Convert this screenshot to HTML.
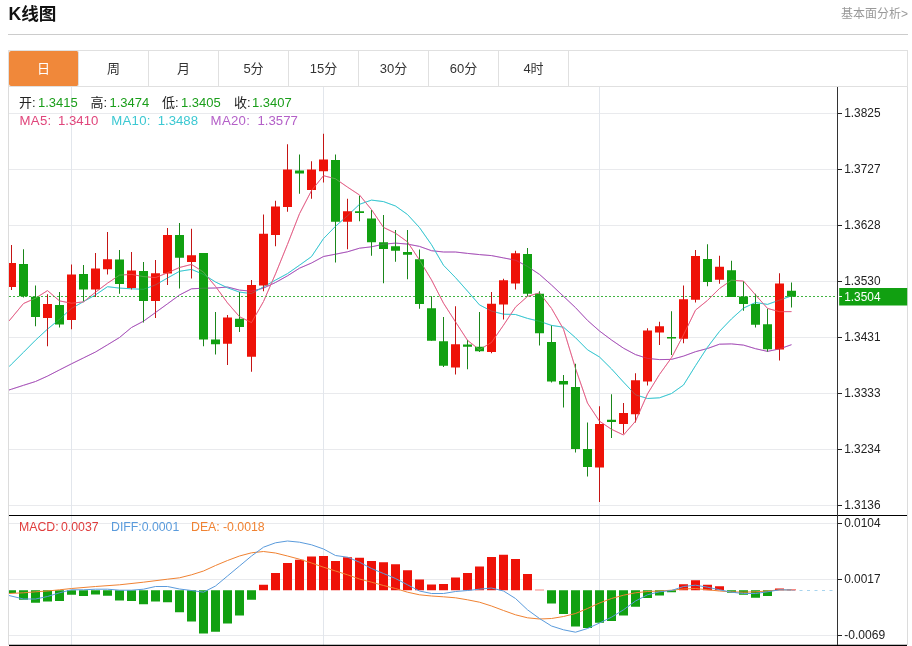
<!DOCTYPE html>
<html lang="zh-CN"><head><meta charset="utf-8"><title>K线图</title>
<style>
html,body{margin:0;padding:0;background:#fff}
body{width:912px;height:646px;position:relative;overflow:hidden;font-family:"Liberation Sans","Noto Sans CJK SC",sans-serif;color:#222}
svg text{font-family:"Liberation Sans","Noto Sans CJK SC",sans-serif}
.title{position:absolute;left:8.5px;top:2px;font-size:17.6px;font-weight:bold;line-height:24px;color:#111}
.more{position:absolute;right:4px;top:4.5px;font-size:12px;line-height:18px;color:#999}
.hr{position:absolute;left:8px;right:4px;top:34px;height:1px;background:#ccc}
.tabs{position:absolute;left:8px;top:50px;width:898px;height:35px;border:1px solid #e0e0e0;box-sizing:content-box;display:flex}
.tab{width:69px;height:35px;border-right:1px solid #e0e0e0;text-align:center;line-height:35px;font-size:13px;color:#333}
.tab.on{background:#f0883a;color:#fff;border-radius:2px}
.row{position:absolute;left:0;height:16px;line-height:16px;white-space:nowrap}
.row span{position:absolute;top:0}
.r1{top:95px;font-size:13px}
.r2{top:113px;font-size:13.2px}
.r3{top:518.5px;font-size:12.3px}
.g{color:#1a9e1a}
</style></head><body>
<div class="title">K线图</div>
<div class="more">基本面分析&gt;</div>
<div class="hr"></div>
<div class="tabs"><div class="tab on">日</div><div class="tab">周</div><div class="tab">月</div><div class="tab">5分</div><div class="tab">15分</div><div class="tab">30分</div><div class="tab">60分</div><div class="tab">4时</div></div>
<svg width="912" height="646" viewBox="0 0 912 646" style="position:absolute;left:0;top:0">
<defs><clipPath id="cp"><rect x="9" y="87" width="828" height="560"/></clipPath></defs>
<line x1="9" x2="837" y1="113.5" y2="113.5" stroke="#e9eaed" stroke-width="1"/>
<line x1="9" x2="837" y1="169.5" y2="169.5" stroke="#e9eaed" stroke-width="1"/>
<line x1="9" x2="837" y1="225.5" y2="225.5" stroke="#e9eaed" stroke-width="1"/>
<line x1="9" x2="837" y1="281.5" y2="281.5" stroke="#e9eaed" stroke-width="1"/>
<line x1="9" x2="837" y1="337.5" y2="337.5" stroke="#e9eaed" stroke-width="1"/>
<line x1="9" x2="837" y1="393.5" y2="393.5" stroke="#e9eaed" stroke-width="1"/>
<line x1="9" x2="837" y1="449.5" y2="449.5" stroke="#e9eaed" stroke-width="1"/>
<line x1="9" x2="837" y1="505.5" y2="505.5" stroke="#e9eaed" stroke-width="1"/>
<line x1="9" x2="837" y1="523.5" y2="523.5" stroke="#e9eaed" stroke-width="1"/>
<line x1="9" x2="837" y1="579.5" y2="579.5" stroke="#e9eaed" stroke-width="1"/>
<line x1="9" x2="837" y1="635.5" y2="635.5" stroke="#e9eaed" stroke-width="1"/>
<line x1="71.5" x2="71.5" y1="87" y2="645" stroke="#e2e6ec" stroke-width="1"/>
<line x1="323.5" x2="323.5" y1="87" y2="645" stroke="#e2e6ec" stroke-width="1"/>
<line x1="599.5" x2="599.5" y1="87" y2="645" stroke="#e2e6ec" stroke-width="1"/>
<line x1="8.5" x2="8.5" y1="87" y2="645" stroke="#dcdcdc" stroke-width="1"/>
<line x1="907.5" x2="907.5" y1="87" y2="645" stroke="#dcdcdc" stroke-width="1"/>
<g clip-path="url(#cp)">
<polyline points="9.0,390.0 11.5,389.2 23.5,385.3 35.5,381.5 47.5,376.1 59.5,369.9 71.5,363.8 83.5,357.9 95.5,352.0 107.5,344.8 119.5,337.5 131.5,327.5 143.5,321.2 155.5,312.5 167.5,303.8 179.5,295.0 191.5,288.8 203.5,288.2 215.5,288.0 227.5,287.0 239.5,290.1 251.5,291.2 263.5,288.1 275.5,282.5 287.5,275.8 299.5,268.2 311.5,263.0 323.5,256.5 335.5,254.2 347.5,251.8 359.5,248.2 371.5,246.8 383.5,244.2 395.5,243.1 407.5,244.1 419.5,246.4 431.5,250.7 443.5,252.0 455.5,252.0 467.5,253.4 479.5,254.6 491.5,255.6 503.5,257.9 515.5,260.2 527.5,266.4 539.5,274.4 551.5,285.0 563.5,296.3 575.5,307.6 587.5,320.4 599.5,331.0 611.5,340.0 623.5,348.2 635.5,354.6 647.5,358.4 659.5,359.6 671.5,359.4 683.5,356.1 695.5,351.7 707.5,348.5 719.5,344.2 731.5,343.9 743.5,345.1 755.5,348.7 767.5,351.4 779.5,348.9 791.5,344.7" fill="none" stroke="#a450b4" stroke-width="1.0" stroke-linejoin="round" />
<polyline points="9.0,366.7 11.5,364.2 23.5,352.3 35.5,340.2 47.5,329.1 59.5,319.3 71.5,308.4 83.5,301.6 95.5,294.9 107.5,286.7 119.5,288.1 131.5,288.8 143.5,289.3 155.5,284.9 167.5,278.0 179.5,271.3 191.5,269.4 203.5,274.4 215.5,282.0 227.5,287.8 239.5,292.1 251.5,293.6 263.5,286.8 275.5,280.1 287.5,273.6 299.5,265.2 311.5,256.6 323.5,238.6 335.5,226.3 347.5,215.7 359.5,204.3 371.5,200.1 383.5,201.6 395.5,206.0 407.5,214.5 419.5,227.6 431.5,244.7 443.5,265.3 455.5,277.6 467.5,291.1 479.5,304.9 491.5,311.1 503.5,314.2 515.5,314.5 527.5,318.4 539.5,321.3 551.5,325.4 563.5,327.2 575.5,337.7 587.5,349.8 599.5,357.0 611.5,368.9 623.5,382.1 635.5,394.8 647.5,398.5 659.5,397.8 671.5,393.5 683.5,385.0 695.5,365.7 707.5,347.2 719.5,331.4 731.5,318.9 743.5,308.1 755.5,302.5 767.5,304.4 779.5,300.1 791.5,295.9" fill="none" stroke="#3cc8d2" stroke-width="1.0" stroke-linejoin="round" />
<polyline points="9.0,321.0 11.5,318.0 23.5,303.5 35.5,298.2 47.5,290.6 59.5,300.9 71.5,303.2 83.5,301.9 95.5,292.2 107.5,283.2 119.5,275.1 131.5,274.4 143.5,276.6 155.5,277.6 167.5,272.8 179.5,267.5 191.5,264.4 203.5,272.1 215.5,286.4 227.5,302.9 239.5,316.7 251.5,322.6 263.5,301.5 275.5,273.9 287.5,244.3 299.5,213.7 311.5,190.6 323.5,175.7 335.5,178.8 347.5,187.1 359.5,195.0 371.5,209.6 383.5,227.4 395.5,233.2 407.5,241.9 419.5,260.1 431.5,279.9 443.5,303.2 455.5,321.9 467.5,340.3 479.5,349.8 491.5,342.4 503.5,325.2 515.5,307.1 527.5,296.4 539.5,292.9 551.5,308.4 563.5,329.2 575.5,368.4 587.5,403.1 599.5,421.2 611.5,429.3 623.5,435.0 635.5,421.2 647.5,393.9 659.5,374.4 671.5,357.7 683.5,334.9 695.5,310.1 707.5,300.4 719.5,288.5 731.5,280.2 743.5,281.1 755.5,294.9 767.5,308.4 779.5,311.7 791.5,311.6" fill="none" stroke="#d83a6a" stroke-width="1.0" stroke-linejoin="round" />
<line x1="9" x2="837" y1="296.5" y2="296.5" stroke="#11a011" stroke-opacity="0.8" stroke-width="1" stroke-dasharray="2,2"/>
<line x1="11.5" x2="11.5" y1="245" y2="290" stroke="#c41414" stroke-width="1"/>
<rect x="7.0" y="263" width="9" height="24" fill="#ee1208"/>
<line x1="23.5" x2="23.5" y1="249.25" y2="297.5" stroke="#1a861a" stroke-width="1"/>
<rect x="19.0" y="264" width="9" height="32.25" fill="#11a011"/>
<line x1="35.5" x2="35.5" y1="285.5" y2="326.25" stroke="#1a861a" stroke-width="1"/>
<rect x="31.0" y="296.75" width="9" height="20.25" fill="#11a011"/>
<line x1="47.5" x2="47.5" y1="294.25" y2="346.25" stroke="#c41414" stroke-width="1"/>
<rect x="43.0" y="304" width="9" height="14" fill="#ee1208"/>
<line x1="59.5" x2="59.5" y1="292" y2="327.5" stroke="#1a861a" stroke-width="1"/>
<rect x="55.0" y="305" width="9" height="19.5" fill="#11a011"/>
<line x1="71.5" x2="71.5" y1="264.5" y2="329.25" stroke="#c41414" stroke-width="1"/>
<rect x="67.0" y="274.5" width="9" height="45.5" fill="#ee1208"/>
<line x1="83.5" x2="83.5" y1="265" y2="301.25" stroke="#1a861a" stroke-width="1"/>
<rect x="79.0" y="274" width="9" height="15.5" fill="#11a011"/>
<line x1="95.5" x2="95.5" y1="253" y2="297" stroke="#c41414" stroke-width="1"/>
<rect x="91.0" y="268.5" width="9" height="21.0" fill="#ee1208"/>
<line x1="107.5" x2="107.5" y1="232" y2="274.5" stroke="#c41414" stroke-width="1"/>
<rect x="103.0" y="259.25" width="9" height="10.0" fill="#ee1208"/>
<line x1="119.5" x2="119.5" y1="250" y2="293.75" stroke="#1a861a" stroke-width="1"/>
<rect x="115.0" y="259.5" width="9" height="24.5" fill="#11a011"/>
<line x1="131.5" x2="131.5" y1="252" y2="289.5" stroke="#c41414" stroke-width="1"/>
<rect x="127.0" y="270.5" width="9" height="17.5" fill="#ee1208"/>
<line x1="143.5" x2="143.5" y1="262" y2="322.5" stroke="#1a861a" stroke-width="1"/>
<rect x="139.0" y="271" width="9" height="30" fill="#11a011"/>
<line x1="155.5" x2="155.5" y1="260" y2="318" stroke="#c41414" stroke-width="1"/>
<rect x="151.0" y="273.25" width="9" height="27.75" fill="#ee1208"/>
<line x1="167.5" x2="167.5" y1="228" y2="285" stroke="#c41414" stroke-width="1"/>
<rect x="163.0" y="235" width="9" height="38.5" fill="#ee1208"/>
<line x1="179.5" x2="179.5" y1="223" y2="288.5" stroke="#1a861a" stroke-width="1"/>
<rect x="175.0" y="235" width="9" height="22.75" fill="#11a011"/>
<line x1="191.5" x2="191.5" y1="228.75" y2="278.5" stroke="#c41414" stroke-width="1"/>
<rect x="187.0" y="255.25" width="9" height="6.75" fill="#ee1208"/>
<line x1="203.5" x2="203.5" y1="253" y2="346.25" stroke="#1a861a" stroke-width="1"/>
<rect x="199.0" y="253" width="9" height="86.5" fill="#11a011"/>
<line x1="215.5" x2="215.5" y1="312" y2="354.5" stroke="#1a861a" stroke-width="1"/>
<rect x="211.0" y="339.5" width="9" height="4.75" fill="#11a011"/>
<line x1="227.5" x2="227.5" y1="315" y2="365" stroke="#c41414" stroke-width="1"/>
<rect x="223.0" y="317.5" width="9" height="26.25" fill="#ee1208"/>
<line x1="239.5" x2="239.5" y1="292" y2="332" stroke="#1a861a" stroke-width="1"/>
<rect x="235.0" y="318.75" width="9" height="8.25" fill="#11a011"/>
<line x1="251.5" x2="251.5" y1="280" y2="371.75" stroke="#c41414" stroke-width="1"/>
<rect x="247.0" y="285" width="9" height="71.75" fill="#ee1208"/>
<line x1="263.5" x2="263.5" y1="214.5" y2="291.25" stroke="#c41414" stroke-width="1"/>
<rect x="259.0" y="233.75" width="9" height="51.75" fill="#ee1208"/>
<line x1="275.5" x2="275.5" y1="200.75" y2="246.25" stroke="#c41414" stroke-width="1"/>
<rect x="271.0" y="206.5" width="9" height="28.5" fill="#ee1208"/>
<line x1="287.5" x2="287.5" y1="144.25" y2="211.75" stroke="#c41414" stroke-width="1"/>
<rect x="283.0" y="169.5" width="9" height="37.5" fill="#ee1208"/>
<line x1="299.5" x2="299.5" y1="154.5" y2="193.75" stroke="#1a861a" stroke-width="1"/>
<rect x="295.0" y="170.5" width="9" height="3.0" fill="#11a011"/>
<line x1="311.5" x2="311.5" y1="161.25" y2="198.75" stroke="#c41414" stroke-width="1"/>
<rect x="307.0" y="169.5" width="9" height="20.5" fill="#ee1208"/>
<line x1="323.5" x2="323.5" y1="133.75" y2="182.5" stroke="#c41414" stroke-width="1"/>
<rect x="319.0" y="159.5" width="9" height="11.75" fill="#ee1208"/>
<line x1="335.5" x2="335.5" y1="154.5" y2="262.5" stroke="#1a861a" stroke-width="1"/>
<rect x="331.0" y="160" width="9" height="61.75" fill="#11a011"/>
<line x1="347.5" x2="347.5" y1="198.75" y2="249.25" stroke="#c41414" stroke-width="1"/>
<rect x="343.0" y="211.25" width="9" height="10.5" fill="#ee1208"/>
<line x1="359.5" x2="359.5" y1="195.75" y2="221.25" stroke="#1a861a" stroke-width="1"/>
<rect x="355.0" y="211.25" width="9" height="1.75" fill="#11a011"/>
<line x1="371.5" x2="371.5" y1="210" y2="255.75" stroke="#1a861a" stroke-width="1"/>
<rect x="367.0" y="218.5" width="9" height="23.75" fill="#11a011"/>
<line x1="383.5" x2="383.5" y1="215" y2="283.25" stroke="#1a861a" stroke-width="1"/>
<rect x="379.0" y="242.25" width="9" height="6.75" fill="#11a011"/>
<line x1="395.5" x2="395.5" y1="230" y2="261.75" stroke="#1a861a" stroke-width="1"/>
<rect x="391.0" y="246.25" width="9" height="4.5" fill="#11a011"/>
<line x1="407.5" x2="407.5" y1="230" y2="279.25" stroke="#1a861a" stroke-width="1"/>
<rect x="403.0" y="252" width="9" height="2.75" fill="#11a011"/>
<line x1="419.5" x2="419.5" y1="249.5" y2="308.75" stroke="#1a861a" stroke-width="1"/>
<rect x="415.0" y="259.25" width="9" height="44.75" fill="#11a011"/>
<line x1="431.5" x2="431.5" y1="296.25" y2="340.75" stroke="#1a861a" stroke-width="1"/>
<rect x="427.0" y="308.25" width="9" height="32.5" fill="#11a011"/>
<line x1="443.5" x2="443.5" y1="317" y2="367" stroke="#1a861a" stroke-width="1"/>
<rect x="439.0" y="341.25" width="9" height="24.5" fill="#11a011"/>
<line x1="455.5" x2="455.5" y1="306.25" y2="374.5" stroke="#c41414" stroke-width="1"/>
<rect x="451.0" y="344.25" width="9" height="23.25" fill="#ee1208"/>
<line x1="467.5" x2="467.5" y1="340" y2="369.25" stroke="#1a861a" stroke-width="1"/>
<rect x="463.0" y="344.5" width="9" height="2.25" fill="#11a011"/>
<line x1="479.5" x2="479.5" y1="312" y2="352" stroke="#1a861a" stroke-width="1"/>
<rect x="475.0" y="346.75" width="9" height="4.5" fill="#11a011"/>
<line x1="491.5" x2="491.5" y1="292" y2="353.25" stroke="#c41414" stroke-width="1"/>
<rect x="487.0" y="303.75" width="9" height="48.25" fill="#ee1208"/>
<line x1="503.5" x2="503.5" y1="278.75" y2="319.5" stroke="#c41414" stroke-width="1"/>
<rect x="499.0" y="280.25" width="9" height="24.25" fill="#ee1208"/>
<line x1="515.5" x2="515.5" y1="250.75" y2="289.5" stroke="#c41414" stroke-width="1"/>
<rect x="511.0" y="253.25" width="9" height="30.25" fill="#ee1208"/>
<line x1="527.5" x2="527.5" y1="248" y2="296.25" stroke="#1a861a" stroke-width="1"/>
<rect x="523.0" y="254" width="9" height="39.75" fill="#11a011"/>
<line x1="539.5" x2="539.5" y1="291.25" y2="345.5" stroke="#1a861a" stroke-width="1"/>
<rect x="535.0" y="293.75" width="9" height="39.5" fill="#11a011"/>
<line x1="551.5" x2="551.5" y1="325.5" y2="382.5" stroke="#1a861a" stroke-width="1"/>
<rect x="547.0" y="342" width="9" height="39.5" fill="#11a011"/>
<line x1="563.5" x2="563.5" y1="375" y2="407.5" stroke="#1a861a" stroke-width="1"/>
<rect x="559.0" y="381" width="9" height="3.5" fill="#11a011"/>
<line x1="575.5" x2="575.5" y1="363.75" y2="452.5" stroke="#1a861a" stroke-width="1"/>
<rect x="571.0" y="387" width="9" height="62" fill="#11a011"/>
<line x1="587.5" x2="587.5" y1="422.5" y2="476.5" stroke="#1a861a" stroke-width="1"/>
<rect x="583.0" y="449" width="9" height="18" fill="#11a011"/>
<line x1="599.5" x2="599.5" y1="406.25" y2="502" stroke="#c41414" stroke-width="1"/>
<rect x="595.0" y="424" width="9" height="43.5" fill="#ee1208"/>
<line x1="611.5" x2="611.5" y1="394.25" y2="438" stroke="#1a861a" stroke-width="1"/>
<rect x="607.0" y="419.75" width="9" height="2.25" fill="#11a011"/>
<line x1="623.5" x2="623.5" y1="403" y2="433.75" stroke="#c41414" stroke-width="1"/>
<rect x="619.0" y="413" width="9" height="11" fill="#ee1208"/>
<line x1="635.5" x2="635.5" y1="373.25" y2="422.5" stroke="#c41414" stroke-width="1"/>
<rect x="631.0" y="380.25" width="9" height="34.0" fill="#ee1208"/>
<line x1="647.5" x2="647.5" y1="328.25" y2="385.5" stroke="#c41414" stroke-width="1"/>
<rect x="643.0" y="330.5" width="9" height="51.0" fill="#ee1208"/>
<line x1="659.5" x2="659.5" y1="321.75" y2="345" stroke="#c41414" stroke-width="1"/>
<rect x="655.0" y="326.25" width="9" height="6.25" fill="#ee1208"/>
<line x1="671.5" x2="671.5" y1="311.25" y2="355" stroke="#1a861a" stroke-width="1"/>
<rect x="667.0" y="337" width="9" height="1.5" fill="#11a011"/>
<line x1="683.5" x2="683.5" y1="285.5" y2="343.25" stroke="#c41414" stroke-width="1"/>
<rect x="679.0" y="299.25" width="9" height="39.5" fill="#ee1208"/>
<line x1="695.5" x2="695.5" y1="250" y2="302.5" stroke="#c41414" stroke-width="1"/>
<rect x="691.0" y="256" width="9" height="43.75" fill="#ee1208"/>
<line x1="707.5" x2="707.5" y1="244.25" y2="286.25" stroke="#1a861a" stroke-width="1"/>
<rect x="703.0" y="259" width="9" height="23" fill="#11a011"/>
<line x1="719.5" x2="719.5" y1="255.75" y2="283.75" stroke="#c41414" stroke-width="1"/>
<rect x="715.0" y="266.75" width="9" height="13.0" fill="#ee1208"/>
<line x1="731.5" x2="731.5" y1="260.75" y2="297" stroke="#1a861a" stroke-width="1"/>
<rect x="727.0" y="270.25" width="9" height="26.75" fill="#11a011"/>
<line x1="743.5" x2="743.5" y1="281.25" y2="310.75" stroke="#1a861a" stroke-width="1"/>
<rect x="739.0" y="296.5" width="9" height="7.5" fill="#11a011"/>
<line x1="755.5" x2="755.5" y1="293.75" y2="327.5" stroke="#1a861a" stroke-width="1"/>
<rect x="751.0" y="304" width="9" height="20.75" fill="#11a011"/>
<line x1="767.5" x2="767.5" y1="308.75" y2="351.75" stroke="#1a861a" stroke-width="1"/>
<rect x="763.0" y="324.25" width="9" height="25.0" fill="#11a011"/>
<line x1="779.5" x2="779.5" y1="273.25" y2="360.5" stroke="#c41414" stroke-width="1"/>
<rect x="775.0" y="283.5" width="9" height="66.0" fill="#ee1208"/>
<line x1="791.5" x2="791.5" y1="282.5" y2="307.5" stroke="#1a861a" stroke-width="1"/>
<rect x="787.0" y="290.75" width="9" height="6.0" fill="#11a011"/>
<polyline points="9.0,390.0 11.5,389.2 23.5,385.3 35.5,381.5 47.5,376.1 59.5,369.9 71.5,363.8 83.5,357.9 95.5,352.0 107.5,344.8 119.5,337.5 131.5,327.5 143.5,321.2 155.5,312.5 167.5,303.8 179.5,295.0 191.5,288.8 203.5,288.2 215.5,288.0 227.5,287.0 239.5,290.1 251.5,291.2 263.5,288.1 275.5,282.5 287.5,275.8 299.5,268.2 311.5,263.0 323.5,256.5 335.5,254.2 347.5,251.8 359.5,248.2 371.5,246.8 383.5,244.2 395.5,243.1 407.5,244.1 419.5,246.4 431.5,250.7 443.5,252.0 455.5,252.0 467.5,253.4 479.5,254.6 491.5,255.6 503.5,257.9 515.5,260.2 527.5,266.4 539.5,274.4 551.5,285.0 563.5,296.3 575.5,307.6 587.5,320.4 599.5,331.0 611.5,340.0 623.5,348.2 635.5,354.6 647.5,358.4 659.5,359.6 671.5,359.4 683.5,356.1 695.5,351.7 707.5,348.5 719.5,344.2 731.5,343.9 743.5,345.1 755.5,348.7 767.5,351.4 779.5,348.9 791.5,344.7" fill="none" stroke="#b460c8" stroke-width="1" stroke-linejoin="round" stroke-opacity="0.3"/>
<polyline points="9.0,366.7 11.5,364.2 23.5,352.3 35.5,340.2 47.5,329.1 59.5,319.3 71.5,308.4 83.5,301.6 95.5,294.9 107.5,286.7 119.5,288.1 131.5,288.8 143.5,289.3 155.5,284.9 167.5,278.0 179.5,271.3 191.5,269.4 203.5,274.4 215.5,282.0 227.5,287.8 239.5,292.1 251.5,293.6 263.5,286.8 275.5,280.1 287.5,273.6 299.5,265.2 311.5,256.6 323.5,238.6 335.5,226.3 347.5,215.7 359.5,204.3 371.5,200.1 383.5,201.6 395.5,206.0 407.5,214.5 419.5,227.6 431.5,244.7 443.5,265.3 455.5,277.6 467.5,291.1 479.5,304.9 491.5,311.1 503.5,314.2 515.5,314.5 527.5,318.4 539.5,321.3 551.5,325.4 563.5,327.2 575.5,337.7 587.5,349.8 599.5,357.0 611.5,368.9 623.5,382.1 635.5,394.8 647.5,398.5 659.5,397.8 671.5,393.5 683.5,385.0 695.5,365.7 707.5,347.2 719.5,331.4 731.5,318.9 743.5,308.1 755.5,302.5 767.5,304.4 779.5,300.1 791.5,295.9" fill="none" stroke="#3cc8d2" stroke-width="1" stroke-linejoin="round" stroke-opacity="0.3"/>
<polyline points="9.0,321.0 11.5,318.0 23.5,303.5 35.5,298.2 47.5,290.6 59.5,300.9 71.5,303.2 83.5,301.9 95.5,292.2 107.5,283.2 119.5,275.1 131.5,274.4 143.5,276.6 155.5,277.6 167.5,272.8 179.5,267.5 191.5,264.4 203.5,272.1 215.5,286.4 227.5,302.9 239.5,316.7 251.5,322.6 263.5,301.5 275.5,273.9 287.5,244.3 299.5,213.7 311.5,190.6 323.5,175.7 335.5,178.8 347.5,187.1 359.5,195.0 371.5,209.6 383.5,227.4 395.5,233.2 407.5,241.9 419.5,260.1 431.5,279.9 443.5,303.2 455.5,321.9 467.5,340.3 479.5,349.8 491.5,342.4 503.5,325.2 515.5,307.1 527.5,296.4 539.5,292.9 551.5,308.4 563.5,329.2 575.5,368.4 587.5,403.1 599.5,421.2 611.5,429.3 623.5,435.0 635.5,421.2 647.5,393.9 659.5,374.4 671.5,357.7 683.5,334.9 695.5,310.1 707.5,300.4 719.5,288.5 731.5,280.2 743.5,281.1 755.5,294.9 767.5,308.4 779.5,311.7 791.5,311.6" fill="none" stroke="#ffc0d0" stroke-width="1" stroke-linejoin="round" stroke-opacity="0.3"/>
<line x1="792" x2="836" y1="590.5" y2="590.5" stroke="#a8d4ee" stroke-width="1" stroke-dasharray="3,4.5"/>
<rect x="7.0" y="590.25" width="9" height="2.75" fill="#11a011"/>
<rect x="19.0" y="590.25" width="9" height="9.5" fill="#11a011"/>
<rect x="31.0" y="590.25" width="9" height="12.5" fill="#11a011"/>
<rect x="43.0" y="590.25" width="9" height="11.25" fill="#11a011"/>
<rect x="55.0" y="590.25" width="9" height="10.75" fill="#11a011"/>
<rect x="67.0" y="590.25" width="9" height="4.5" fill="#11a011"/>
<rect x="79.0" y="590.25" width="9" height="5.75" fill="#11a011"/>
<rect x="91.0" y="590.25" width="9" height="4.25" fill="#11a011"/>
<rect x="103.0" y="590.25" width="9" height="5.5" fill="#11a011"/>
<rect x="115.0" y="590.25" width="9" height="10.25" fill="#11a011"/>
<rect x="127.0" y="590.25" width="9" height="10.75" fill="#11a011"/>
<rect x="139.0" y="590.25" width="9" height="14.0" fill="#11a011"/>
<rect x="151.0" y="590.25" width="9" height="11.25" fill="#11a011"/>
<rect x="163.0" y="590.25" width="9" height="12.0" fill="#11a011"/>
<rect x="175.0" y="590.25" width="9" height="22.0" fill="#11a011"/>
<rect x="187.0" y="590.25" width="9" height="31.25" fill="#11a011"/>
<rect x="199.0" y="590.25" width="9" height="43.25" fill="#11a011"/>
<rect x="211.0" y="590.25" width="9" height="41.5" fill="#11a011"/>
<rect x="223.0" y="590.25" width="9" height="33.25" fill="#11a011"/>
<rect x="235.0" y="590.25" width="9" height="25.25" fill="#11a011"/>
<rect x="247.0" y="590.25" width="9" height="9.5" fill="#11a011"/>
<rect x="259.0" y="584.75" width="9" height="5.5" fill="#ee1208"/>
<rect x="271.0" y="573" width="9" height="17.25" fill="#ee1208"/>
<rect x="283.0" y="563" width="9" height="27.25" fill="#ee1208"/>
<rect x="295.0" y="559.75" width="9" height="30.5" fill="#ee1208"/>
<rect x="307.0" y="556.5" width="9" height="33.75" fill="#ee1208"/>
<rect x="319.0" y="556" width="9" height="34.25" fill="#ee1208"/>
<rect x="331.0" y="561" width="9" height="29.25" fill="#ee1208"/>
<rect x="343.0" y="557.25" width="9" height="33.0" fill="#ee1208"/>
<rect x="355.0" y="557.75" width="9" height="32.5" fill="#ee1208"/>
<rect x="367.0" y="561" width="9" height="29.25" fill="#ee1208"/>
<rect x="379.0" y="562.25" width="9" height="28.0" fill="#ee1208"/>
<rect x="391.0" y="564.25" width="9" height="26.0" fill="#ee1208"/>
<rect x="403.0" y="570.25" width="9" height="20.0" fill="#ee1208"/>
<rect x="415.0" y="579.5" width="9" height="10.75" fill="#ee1208"/>
<rect x="427.0" y="584.5" width="9" height="5.75" fill="#ee1208"/>
<rect x="439.0" y="584" width="9" height="6.25" fill="#ee1208"/>
<rect x="451.0" y="577.5" width="9" height="12.75" fill="#ee1208"/>
<rect x="463.0" y="573" width="9" height="17.25" fill="#ee1208"/>
<rect x="475.0" y="566.5" width="9" height="23.75" fill="#ee1208"/>
<rect x="487.0" y="557" width="9" height="33.25" fill="#ee1208"/>
<rect x="499.0" y="554.75" width="9" height="35.5" fill="#ee1208"/>
<rect x="511.0" y="559" width="9" height="31.25" fill="#ee1208"/>
<rect x="523.0" y="574" width="9" height="16.25" fill="#ee1208"/>
<rect x="535.0" y="589.75" width="9" height="0.5" fill="#ee1208"/>
<rect x="547.0" y="590.25" width="9" height="13.25" fill="#11a011"/>
<rect x="559.0" y="590.25" width="9" height="23.75" fill="#11a011"/>
<rect x="571.0" y="590.25" width="9" height="36.25" fill="#11a011"/>
<rect x="583.0" y="590.25" width="9" height="37.75" fill="#11a011"/>
<rect x="595.0" y="590.25" width="9" height="32.5" fill="#11a011"/>
<rect x="607.0" y="590.25" width="9" height="30.75" fill="#11a011"/>
<rect x="619.0" y="590.25" width="9" height="25.25" fill="#11a011"/>
<rect x="631.0" y="590.25" width="9" height="16.5" fill="#11a011"/>
<rect x="643.0" y="590.25" width="9" height="7.75" fill="#11a011"/>
<rect x="655.0" y="590.25" width="9" height="5.25" fill="#11a011"/>
<rect x="667.0" y="590.25" width="9" height="2.0" fill="#11a011"/>
<rect x="679.0" y="584.25" width="9" height="6.0" fill="#ee1208"/>
<rect x="691.0" y="580.25" width="9" height="10.0" fill="#ee1208"/>
<rect x="703.0" y="584.75" width="9" height="5.5" fill="#ee1208"/>
<rect x="715.0" y="586.25" width="9" height="4.0" fill="#ee1208"/>
<rect x="727.0" y="590.25" width="9" height="2.5" fill="#11a011"/>
<rect x="739.0" y="590.25" width="9" height="4.5" fill="#11a011"/>
<rect x="751.0" y="590.25" width="9" height="7.5" fill="#11a011"/>
<rect x="763.0" y="590.25" width="9" height="5.75" fill="#11a011"/>
<rect x="775.0" y="588.5" width="9" height="1.75" fill="#ee1208"/>
<rect x="787.0" y="589.5" width="9" height="0.75" fill="#ee1208"/>
<polyline points="9.0,593.5 23.5,592.8 35.5,591.8 47.5,591.0 59.5,589.8 71.5,588.5 95.5,586.5 119.5,584.8 143.5,582.2 167.5,579.2 179.5,577.8 191.5,574.8 203.5,571.0 215.5,565.5 227.5,560.5 239.5,556.0 251.5,552.8 263.5,551.5 275.5,553.0 287.5,556.0 299.5,559.2 311.5,563.0 323.5,567.2 335.5,571.0 347.5,574.8 359.5,579.0 371.5,582.2 383.5,585.5 395.5,588.5 407.5,592.2 419.5,594.8 431.5,596.0 443.5,596.8 455.5,597.8 467.5,599.8 479.5,602.2 491.5,606.0 503.5,610.5 515.5,614.8 527.5,617.8 539.5,619.0 551.5,618.5 563.5,616.5 575.5,613.5 587.5,608.5 599.5,603.0 611.5,598.5 623.5,595.2 635.5,592.8 647.5,591.5 659.5,591.0 671.5,590.2 683.5,589.0 695.5,588.5 707.5,589.8 719.5,591.0 731.5,591.8 743.5,592.2 755.5,591.8 767.5,591.0 779.5,589.8 791.5,590.0" fill="none" stroke="#f08232" stroke-width="1" stroke-linejoin="round" />
<polyline points="9.0,595.5 23.5,599.0 35.5,599.0 47.5,596.5 59.5,592.8 71.5,589.8 83.5,589.8 95.5,589.2 107.5,589.2 119.5,590.2 131.5,590.2 143.5,589.2 155.5,586.5 167.5,586.5 179.5,589.0 191.5,590.5 203.5,592.2 215.5,586.0 227.5,576.0 239.5,566.0 251.5,556.0 263.5,547.2 275.5,542.8 287.5,541.0 299.5,542.2 311.5,544.8 323.5,549.0 335.5,555.5 347.5,557.2 359.5,562.2 371.5,568.5 383.5,573.5 395.5,578.5 407.5,584.8 419.5,591.0 431.5,593.5 443.5,593.5 455.5,591.5 467.5,590.5 479.5,589.2 491.5,588.0 503.5,591.0 515.5,598.5 527.5,609.8 539.5,618.5 551.5,626.0 563.5,629.8 575.5,632.2 587.5,628.5 599.5,623.0 611.5,617.2 623.5,609.8 635.5,601.0 647.5,594.8 659.5,591.8 671.5,590.5 683.5,586.5 695.5,585.2 707.5,587.2 719.5,589.8 731.5,592.2 743.5,593.5 755.5,593.5 767.5,591.8 779.5,589.8 791.5,590.0" fill="none" stroke="#5a9bdc" stroke-width="1" stroke-linejoin="round" />
</g>
<line x1="9" x2="907" y1="515.5" y2="515.5" stroke="#000" stroke-width="1"/>
<line x1="9" x2="907" y1="645.4" y2="645.4" stroke="#000" stroke-width="1.2"/>
<line x1="837.5" x2="837.5" y1="87" y2="645" stroke="#333" stroke-width="1"/>
<line x1="838" x2="842" y1="113.5" y2="113.5" stroke="#222" stroke-width="1"/>
<text x="844.2" y="117.4" font-size="12.3" fill="#222" textLength="36.3" lengthAdjust="spacingAndGlyphs">1.3825</text>
<line x1="838" x2="842" y1="169.5" y2="169.5" stroke="#222" stroke-width="1"/>
<text x="844.2" y="173.4" font-size="12.3" fill="#222" textLength="36.3" lengthAdjust="spacingAndGlyphs">1.3727</text>
<line x1="838" x2="842" y1="225.5" y2="225.5" stroke="#222" stroke-width="1"/>
<text x="844.2" y="229.4" font-size="12.3" fill="#222" textLength="36.3" lengthAdjust="spacingAndGlyphs">1.3628</text>
<line x1="838" x2="842" y1="281.5" y2="281.5" stroke="#222" stroke-width="1"/>
<text x="844.2" y="285.4" font-size="12.3" fill="#222" textLength="36.3" lengthAdjust="spacingAndGlyphs">1.3530</text>
<line x1="838" x2="842" y1="337.5" y2="337.5" stroke="#222" stroke-width="1"/>
<text x="844.2" y="341.4" font-size="12.3" fill="#222" textLength="36.3" lengthAdjust="spacingAndGlyphs">1.3431</text>
<line x1="838" x2="842" y1="393.5" y2="393.5" stroke="#222" stroke-width="1"/>
<text x="844.2" y="397.4" font-size="12.3" fill="#222" textLength="36.3" lengthAdjust="spacingAndGlyphs">1.3333</text>
<line x1="838" x2="842" y1="449.5" y2="449.5" stroke="#222" stroke-width="1"/>
<text x="844.2" y="453.4" font-size="12.3" fill="#222" textLength="36.3" lengthAdjust="spacingAndGlyphs">1.3234</text>
<line x1="838" x2="842" y1="505.5" y2="505.5" stroke="#222" stroke-width="1"/>
<text x="844.2" y="509.4" font-size="12.3" fill="#222" textLength="36.3" lengthAdjust="spacingAndGlyphs">1.3136</text>
<line x1="838" x2="842" y1="523.5" y2="523.5" stroke="#222" stroke-width="1"/>
<text x="844.2" y="527.4" font-size="12.3" fill="#222" textLength="36.3" lengthAdjust="spacingAndGlyphs">0.0104</text>
<line x1="838" x2="842" y1="579.5" y2="579.5" stroke="#222" stroke-width="1"/>
<text x="844.2" y="583.4" font-size="12.3" fill="#222" textLength="36.3" lengthAdjust="spacingAndGlyphs">0.0017</text>
<line x1="838" x2="842" y1="635.5" y2="635.5" stroke="#222" stroke-width="1"/>
<text x="844.2" y="639.4" font-size="12.3" fill="#222" textLength="41" lengthAdjust="spacingAndGlyphs">-0.0069</text>
<rect x="839.2" y="288" width="68" height="17.5" fill="#11a011"/>
<line x1="838" x2="842" y1="296.5" y2="296.5" stroke="#fff" stroke-width="1"/>
<text x="844.2" y="300.9" font-size="12.3" fill="#fff" textLength="36.3" lengthAdjust="spacingAndGlyphs">1.3504</text>
</svg>
<div class="row r1">
<span style="left:19px">开:</span><span class="g" style="left:38px">1.3415</span>
<span style="left:90.5px">高:</span><span class="g" style="left:109.5px">1.3474</span>
<span style="left:162px">低:</span><span class="g" style="left:181px">1.3405</span>
<span style="left:234px">收:</span><span class="g" style="left:252px">1.3407</span>
</div>
<div class="row r2">
<span style="left:19.5px;color:#e0457b;letter-spacing:.3px">MA5:</span><span style="left:58px;color:#e0457b">1.3410</span>
<span style="left:111.2px;color:#3cc8d2;letter-spacing:.3px">MA10:</span><span style="left:157.7px;color:#3cc8d2">1.3488</span>
<span style="left:210.6px;color:#b460c8;letter-spacing:.3px">MA20:</span><span style="left:257.5px;color:#b460c8">1.3577</span>
</div>
<div class="row r3">
<span style="left:19px;color:#e03c3c">MACD:</span><span style="left:61px;color:#e03c3c">0.0037</span>
<span style="left:111px;color:#5a9bdc">DIFF:</span><span style="left:141.7px;color:#5a9bdc">0.0001</span>
<span style="left:191px;color:#f08232">DEA:</span><span style="left:223px;color:#f08232">-0.0018</span>
</div>
</body></html>
